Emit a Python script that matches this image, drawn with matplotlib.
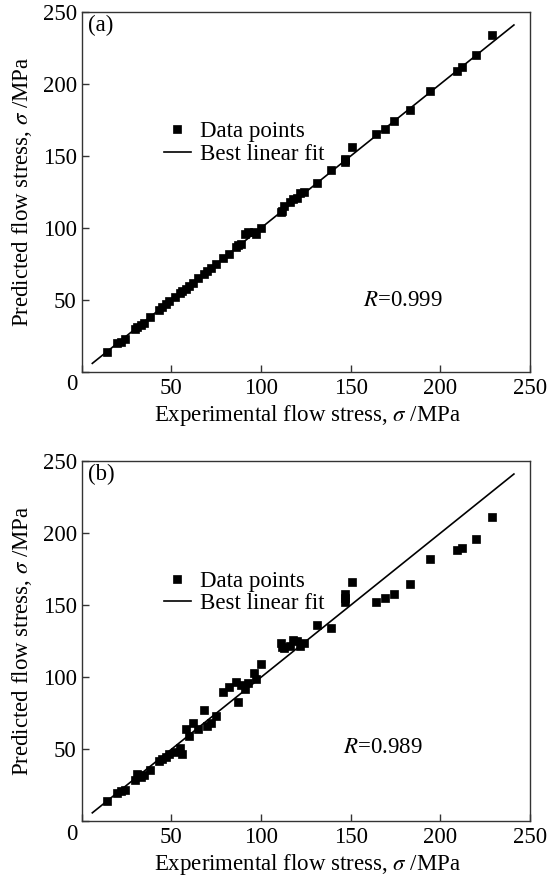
import matplotlib
matplotlib.use('Agg')
import matplotlib.pyplot as plt

plt.rcParams['font.family'] = ['Liberation Serif', 'DejaVu Serif']
plt.rcParams['mathtext.fontset'] = 'stix'

# experimental flow stress (same for both panels)
exp_stress = [14, 20, 22, 24, 30, 31, 33, 35, 38, 43, 45, 47, 49, 52, 55, 56, 58, 60,
              62, 65, 68, 70, 72, 75, 79, 82, 86, 87, 89, 91, 93, 96, 97, 100,
              111, 112, 113, 116, 118, 120, 122, 124, 131, 139, 147, 147, 147, 151,
              164, 169, 174, 183, 194, 209, 212, 220, 229]

# predicted flow stress, panel (a)
pred_a = [14, 20, 21, 23, 30, 31, 33, 34, 38, 43, 45, 47, 49, 52, 55, 56, 58, 60,
          62, 65, 68, 70, 72, 75, 79, 82, 87, 88, 89, 96, 97, 97, 96, 100,
          111, 112, 115, 118, 120, 121, 124, 125, 131, 140, 147, 146, 148, 156,
          165, 169, 174, 182, 195, 209, 212, 220, 234]

# predicted flow stress, panel (b)
pred_b = [14, 20, 21, 22, 29, 33, 31, 32, 36, 42, 43, 45, 47, 48, 51, 47, 64, 59,
          68, 64, 77, 66, 68, 73, 90, 93, 97, 83, 95, 92, 96, 103, 99, 109,
          124, 121, 120, 122, 126, 125, 122, 124, 136, 134, 158, 155, 152, 166,
          152, 155, 158, 165, 182, 188, 190, 196, 211]

fit_x = [6, 241]
panel_labels = ['(a)', '(b)']
r_values = ['0.999', '0.989']
r_pos = [(157, 50), (146, 51)]

fs = 16.5

fig = plt.figure(figsize=(5.51, 8.77), dpi=100)
ax_a = fig.add_axes([0.148, 0.5758, 0.814, 0.4105])
ax_b = fig.add_axes([0.148, 0.0633, 0.814, 0.411])

for ax, pred, lab, r, rp in zip([ax_a, ax_b], [pred_a, pred_b], panel_labels, r_values, r_pos):
    ax.plot(exp_stress, pred, 's', color='black', ms=6, mew=0.5, label='Data points')
    ax.plot(fit_x, fit_x, '-', color='black', lw=1.2, label='Best linear fit')
    ax.set_xlim(0, 250)
    ax.set_ylim(0, 250)
    ax.set_xticks([0, 50, 100, 150, 200, 250])
    ax.set_yticks([0, 50, 100, 150, 200, 250])
    ax.set_xticklabels(['', '50', '100', '150', '200', '250'])
    ax.set_yticklabels(['', '50', '100', '150', '200', '250'])
    ax.tick_params(direction='in', length=5, width=1, labelsize=fs, color='#333333')
    ax.tick_params(axis='x', pad=4)
    ax.tick_params(axis='y', pad=3.5)
    for s in ax.spines.values():
        s.set_linewidth(1.0)
        s.set_color('#333333')
    ax.text(-5.3, -9, '0', fontsize=fs, ha='center', va='center', clip_on=False)
    ax.text(3.5, 241, lab, fontsize=fs, ha='left', va='center')
    ax.text(rp[0], rp[1], '$R$=' + r, fontsize=fs, ha='left', va='center')
    ax.set_xlabel('Experimental flow stress, $\\sigma$ /MPa', fontsize=fs)
    ax.set_ylabel('Predicted flow stress, $\\sigma$ /MPa', fontsize=fs)
    ax.xaxis.set_label_coords(0.505, -0.085)
    ax.yaxis.set_label_coords(-0.107, 0.5)
    ax.legend(loc='center left', bbox_to_anchor=(0.183, 0.636), frameon=False,
              fontsize=fs, numpoints=1, handlelength=1.2, handletextpad=0.4,
              labelspacing=0.05, borderpad=0, borderaxespad=0)

fig.savefig('out.png', dpi=100)
